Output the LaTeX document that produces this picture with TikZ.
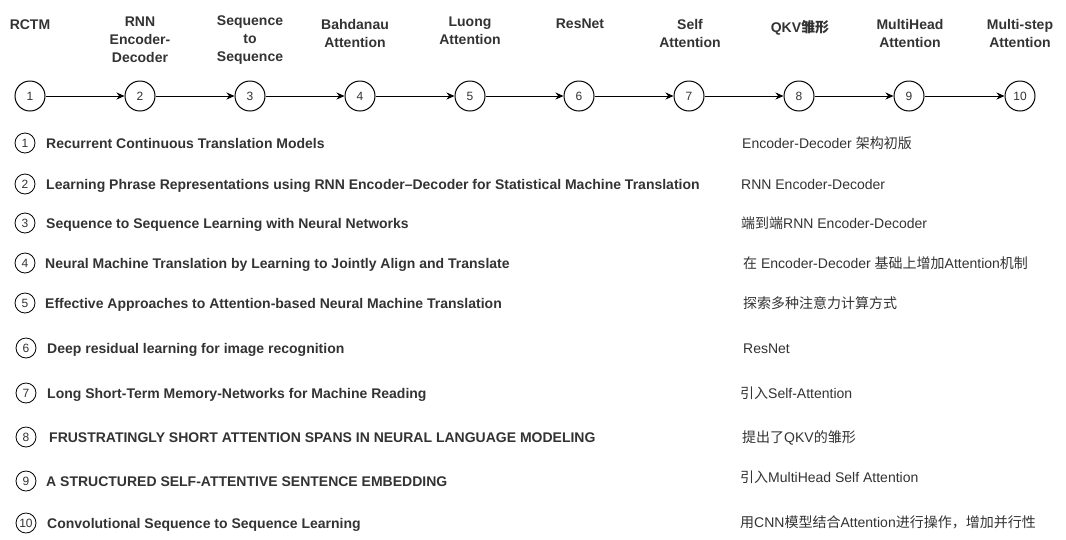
\documentclass[tikz,border=0pt]{standalone}
\usepackage{fontspec}
\setmainfont{Liberation Sans}
\newfontfamily\cjk{Noto Sans CJK SC}
\usetikzlibrary{arrows.meta}
\definecolor{txt}{HTML}{333333}
\begin{document}
\begin{tikzpicture}[x=1pt,y=-1pt,
  toplbl/.style={anchor=north, align=center, font=\fontsize{14}{18}\selectfont\bfseries, text=txt, inner sep=0pt},
  tcirc/.style={circle, draw, line width=1pt, minimum size=30pt, inner sep=0pt, font=\fontsize{12}{14}\selectfont, text=txt},
  lcirc/.style={circle, draw, line width=0.8pt, minimum size=20pt, inner sep=0pt, font=\fontsize{12}{14}\selectfont, text=txt},
  paper/.style={anchor=base west, inner sep=0pt, font=\fontsize{14}{16}\selectfont\bfseries, text=txt},
  note/.style={anchor=base west, inner sep=0pt, font=\fontsize{14}{16}\selectfont, text=txt},
  arr/.style={-{Stealth[length=8pt,width=7pt]}, line width=1pt}]
\useasboundingbox[fill=white] (0,0) rectangle (1066,539);

% timeline circles
\foreach \i/\x in {1/30,2/140,3/250,4/360,5/470,6/579,7/689,8/799,9/909,10/1020}{
  \node[tcirc] (c\i) at (\x,96) {\i};
}
\foreach \a/\b in {1/2,2/3,3/4,4/5,5/6,6/7,7/8,8/9,9/10}{
  \draw[arr] (c\a) -- (c\b);
}

% timeline labels
\node[toplbl] (t1) at (30,20) {RCTM};
\node[toplbl] (t2) at (140,17) {RNN\\Encoder-\\Decoder};
\node[toplbl] (t3) at (250,16) {Sequence\\to\\Sequence};
\node[toplbl] (t4) at (355,19) {Bahdanau\\Attention};
\node[toplbl] (t5) at (470,17) {Luong\\Attention};
\node[toplbl] (t6) at (580,19) {ResNet};
\node[toplbl] (t7) at (690,19) {Self\\Attention};
\node[toplbl] (t8) at (800,20) {QKV{\cjk 雏形}};
\node[toplbl] (t9) at (910,19) {MultiHead\\Attention};
\node[toplbl] (t10) at (1020,19) {Multi-step\\Attention};

% list
\node[lcirc] (l1) at (25,143) {1};
\node[paper] (p1) at (46,148) {Recurrent Continuous Translation Models};
\node[note] (n1) at (742,148) {Encoder-Decoder {\cjk 架构初版}};

\node[lcirc] (l2) at (25,184) {2};
\node[paper] (p2) at (46,189) {Learning Phrase Representations using RNN Encoder–Decoder for Statistical Machine Translation};
\node[note] (n2) at (741,189) {RNN Encoder-Decoder};

\node[lcirc] (l3) at (25,223) {3};
\node[paper] (p3) at (46,228) {Sequence to Sequence Learning with Neural Networks};
\node[note] (n3) at (741,228) {{\cjk 端到端}RNN Encoder-Decoder};

\node[lcirc] (l4) at (25,263) {4};
\node[paper] (p4) at (45,268) {Neural Machine Translation by Learning to Jointly Align and Translate};
\node[note] (n4) at (743,268) {{\cjk 在} Encoder-Decoder {\cjk 基础上增加}Attention{\cjk 机制}};

\node[lcirc] (l5) at (25,303) {5};
\node[paper] (p5) at (45,308) {Effective Approaches to Attention-based Neural Machine Translation};
\node[note] (n5) at (743,308) {{\cjk 探索多种注意力计算方式}};

\node[lcirc] (l6) at (26,348) {6};
\node[paper] (p6) at (47,353) {Deep residual learning for image recognition};
\node[note] (n6) at (743,353) {ResNet};

\node[lcirc] (l7) at (26,393) {7};
\node[paper] (p7) at (47,398) {Long Short-Term Memory-Networks for Machine Reading};
\node[note] (n7) at (740,398) {{\cjk 引入}Self-Attention};

\node[lcirc] (l8) at (26,437) {8};
\node[paper] (p8) at (49,442) {FRUSTRATINGLY SHORT ATTENTION SPANS IN NEURAL LANGUAGE MODELING};
\node[note] (n8) at (742,442) {{\cjk 提出了}QKV{\cjk 的雏形}};

\node[lcirc] (l9) at (26,481) {9};
\node[paper] (p9) at (46,486) {A STRUCTURED SELF-ATTENTIVE SENTENCE EMBEDDING};
\node[note] (n9) at (740,482) {{\cjk 引入}MultiHead Self Attention};

\node[lcirc] (l10) at (26,523) {10};
\node[paper] (p10) at (47,528) {Convolutional Sequence to Sequence Learning};
\node[note] (n10) at (740,527) {{\cjk 用}CNN{\cjk 模型结合}Attention{\cjk 进行操作，增加并行性}};
\end{tikzpicture}
\end{document}
